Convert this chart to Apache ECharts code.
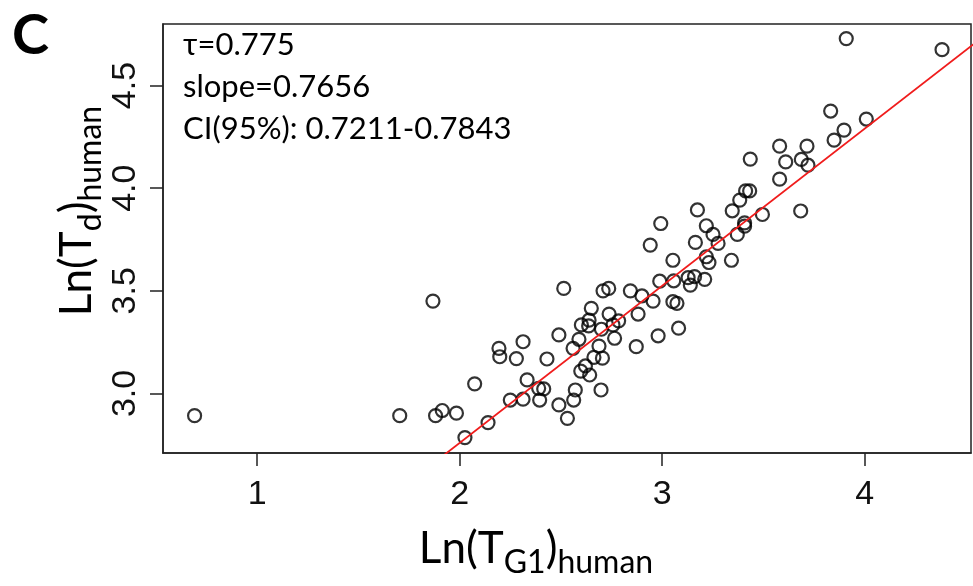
<!DOCTYPE html>
<html>
<head>
<meta charset="utf-8">
<script src="https://cdn.jsdelivr.net/npm/echarts@6/dist/echarts.min.js"></script>
<style>
  html, body { margin: 0; padding: 0; background: #fff; }
  #chart { width: 973px; height: 586px; }
</style>
</head>
<body>
<div id="chart"></div>
<script>
// Ln(T_G1) values (x) and Ln(T_d) values (y)
const lnTG1 = [
  0.691, 1.868, 1.704, 1.881, 1.914, 1.984, 2.026, 2.074, 2.140, 2.194,
  2.198, 2.280, 2.313, 2.250, 2.313, 2.333, 2.395, 2.390, 2.415, 2.431,
  2.490, 2.514, 2.490, 2.532, 2.563, 2.571, 2.560, 2.589, 2.598, 2.621,
  2.642, 2.663, 2.705, 2.698, 2.688, 2.601, 2.639, 2.650, 2.637, 2.700,
  2.738, 2.708, 2.736, 2.765, 2.757, 2.785, 2.843, 2.881, 2.872, 2.900,
  2.955, 2.980, 2.941, 2.988, 3.053, 3.057, 3.053, 3.073, 3.081, 3.128,
  3.160, 3.139, 3.210, 3.218, 3.832, 4.008, 3.898, 3.849, 3.580, 3.715,
  3.687, 3.610, 3.720, 3.435, 3.580, 3.412, 3.432, 3.383, 3.346, 3.174,
  3.684, 3.495, 3.407, 3.407, 3.371, 2.993, 3.218, 3.251, 3.276, 3.164,
  3.231, 3.342, 3.909, 4.382
];
const lnTd = [
  2.892, 3.450, 2.892, 2.892, 2.917, 2.904, 2.785, 3.047, 2.858, 3.220,
  3.179, 3.170, 3.252, 2.968, 2.972, 3.066, 2.968, 3.025, 3.022, 3.168,
  3.285, 3.512, 2.944, 2.879, 2.968, 3.017, 3.220, 3.264, 3.109, 3.134,
  3.090, 3.176, 3.172, 3.017, 3.231, 3.334, 3.357, 3.415, 3.329, 3.313,
  3.387, 3.500, 3.512, 3.269, 3.334, 3.354, 3.500, 3.387, 3.228, 3.475,
  3.450, 3.281, 3.723, 3.547, 3.649, 3.549, 3.447, 3.439, 3.318, 3.564,
  3.569, 3.528, 3.556, 3.666, 4.376, 4.337, 4.283, 4.234, 4.205, 4.205,
  4.140, 4.128, 4.112, 4.142, 4.044, 3.987, 3.987, 3.942, 3.890, 3.894,
  3.889, 3.872, 3.831, 3.815, 3.775, 3.828, 3.817, 3.775, 3.731, 3.736,
  3.638, 3.649, 4.729, 4.675
];

const xTicks = [1, 2, 3, 4];
const yTicks = [3.0, 3.5, 4.0, 4.5];

// fitted line
const fitSlope = 0.7656;
const fitIntercept = 1.228;
const fitX = [1.5, 4.8];

const statLines = ['τ=0.775', 'slope=0.7656', 'CI(95%): 0.7211-0.7843'];

const chart = echarts.init(document.getElementById('chart'));

const points = lnTG1.map((x, i) => [x, lnTd[i]]);
const fitLine = fitX.map(x => [x, fitIntercept + fitSlope * x]);

const tickFont = "'Liberation Sans', Arial, sans-serif";
const textFont = "Lato, 'Open Sans', sans-serif";

const titleRich = {
  m: { fontSize: 44, fontFamily: textFont, color: '#000', lineHeight: 60, padding: [0, 0, 0, 0] },
  s: { fontSize: 32, fontFamily: textFont, color: '#000', lineHeight: 32, padding: [28, 0, 0, 0] },
};

const option = {
  backgroundColor: '#fff',
  animation: false,
  grid: {
    left: 163,
    right: 2,
    top: 24,
    bottom: 133,
    show: true,
    borderColor: '#222',
    borderWidth: 1.5,
  },
  xAxis: {
    type: 'value',
    min: 0.535,
    max: 4.525,
    axisLine: { show: true, lineStyle: { color: '#222', width: 1.5 } },
    axisTick: { show: true, length: 13, customValues: xTicks, lineStyle: { color: '#222', width: 1.5 } },
    axisLabel: {
      customValues: xTicks,
      margin: 25,
      fontSize: 34,
      fontFamily: tickFont,
      color: '#111',
    },
    splitLine: { show: false },
  },
  yAxis: {
    type: 'value',
    min: 2.71,
    max: 4.80,
    axisLine: { show: true, lineStyle: { color: '#222', width: 1.5 } },
    axisTick: { show: true, length: 13, customValues: yTicks, lineStyle: { color: '#222', width: 1.5 } },
    axisLabel: {
      customValues: yTicks,
      rotate: 90,
      margin: 20,
      fontSize: 34,
      fontFamily: tickFont,
      color: '#111',
      formatter: v => v.toFixed(1),
    },
    splitLine: { show: false },
  },
  series: [
    {
      type: 'scatter',
      data: points,
      symbol: 'circle',
      symbolSize: 13,
      itemStyle: { color: 'rgba(0,0,0,0)', borderColor: '#000', borderWidth: 2.2 },
    },
    {
      type: 'line',
      data: fitLine,
      showSymbol: false,
      clip: true,
      lineStyle: { color: '#f01c1c', width: 1.8 },
    },
  ],
  graphic: [
    {
      type: 'text', left: 12, top: 8,
      style: { text: 'C', font: "bold 56px " + textFont, fill: '#000' },
    },
    ...statLines.map((t, i) => ({
      type: 'text', x: 183, y: 45 + i * 42,
      style: { text: t, font: "31px " + textFont, fill: '#000', verticalAlign: 'middle' },
    })),
    {
      type: 'text', x: 536, y: 549,
      style: { text: '{m|Ln(T}{s|G1}{m|)}{s|human}', rich: titleRich, align: 'center', verticalAlign: 'middle' },
    },
    {
      type: 'text', x: 77, y: 211, rotation: Math.PI / 2,
      style: { text: '{m|Ln(T}{s|d}{m|)}{s|human}', rich: titleRich, align: 'center', verticalAlign: 'middle' },
    },
  ],
};

chart.setOption(option);
</script>
</body>
</html>
